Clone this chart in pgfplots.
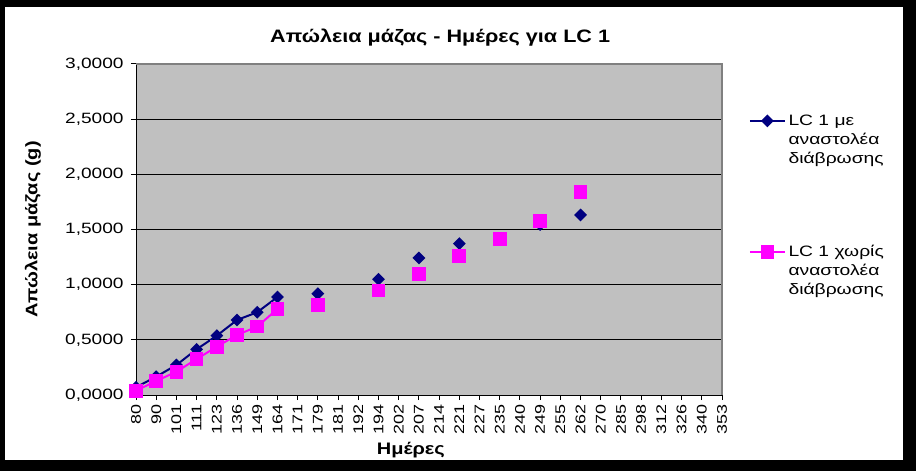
\documentclass[border=0pt]{standalone}
\usepackage{fontspec}
\setmainfont{Liberation Sans}[FakeStretch=1.2]
\newfontfamily\tickfont{Liberation Sans}[FakeStretch=1.28]
\usepackage{pgfplots}
\usepackage{pgfplotstable}
\pgfplotsset{compat=1.18}
\definecolor{navyA}{RGB}{0,0,128}
\definecolor{magB}{RGB}{255,0,255}
\definecolor{plotgray}{RGB}{192,192,192}
\definecolor{bordergray}{RGB}{128,128,128}

\pgfplotstableread{
x y
0 0.070
1 0.166
2 0.272
3 0.414
4 0.538
5 0.680
6 0.750
7 0.888
8 nan
9 0.918
10 nan
12 1.049
13 nan
14 1.242
15 nan
16 1.372
17 nan
20 1.545
21 nan
22 1.632
}\seriesA

\pgfplotstableread{
x y
0 0.039
1 0.127
2 0.211
3 0.326
4 0.438
5 0.544
6 0.620
7 0.780
8 nan
9 0.816
10 nan
12 0.946
13 nan
14 1.097
15 nan
16 1.263
17 nan
18 1.414
19 nan
20 1.577
21 nan
22 1.840
}\seriesB

\begin{document}
\begin{tikzpicture}
\fill[black] (0,0) rectangle (687pt,353.25pt);
\fill[white] (3.75pt,8.25pt) rectangle (677.25pt,348pt);
\begin{axis}[
  at={(102pt,57pt)}, anchor=south west,
  scale only axis, width=439.5pt, height=248.25pt,
  xmin=0, xmax=29, ymin=0, ymax=3,
  axis background/.style={fill=plotgray},
  axis x line*=bottom, axis y line*=left,
  axis line style={black, line width=0.75pt, -},
  xtick={0,...,29},
  xticklabels={80,90,101,111,123,136,149,164,171,179,181,192,194,202,207,214,221,227,235,240,249,255,262,270,285,298,312,326,340,353},
  ytick={0,0.5,...,3},
  tick align=outside,
  major tick length=3.75pt,
  tick style={black, line width=0.75pt},
  ymajorgrids, grid style={black, line width=0.6pt},
  xticklabel style={rotate=90, anchor=east, font=\tickfont\fontsize{10.5}{12}\selectfont},
  yticklabel style={font=\tickfont\fontsize{11.2}{12}\selectfont, xshift=-2pt},
  y tick label style={/pgf/number format/.cd, fixed, fixed zerofill, precision=4, use comma, assume math mode=true},
  unbounded coords=jump,
  title={Απώλεια μάζας - Ημέρες για LC 1},
  title style={font=\bfseries\fontsize{13.5}{16}\selectfont, at={(axis description cs:0.519,1)}, anchor=center, yshift=14pt},
  xlabel={Ημέρες},
  xlabel style={font=\bfseries\fontsize{12.5}{15}\selectfont, at={(axis description cs:0.469,0)}, anchor=center, yshift=-41pt},
  ylabel={Απώλεια μάζας (g)},
  ylabel style={font=\bfseries\fontsize{12.5}{14}\selectfont, at={(axis description cs:-0.176,0.5)}, anchor=center},
  legend style={draw=none, fill=none, at={(axis description cs:1,1)}, anchor=north west,
    xshift=17pt, yshift=-34pt, row sep=56pt,
    font=\tickfont\fontsize{11.3}{14.25}\selectfont, nodes={align=left}},
  legend cell align=left,
  legend image code/.code={\draw[yshift=14.5pt, mark repeat=2, mark phase=2] plot coordinates {(0cm,0cm) (0.46cm,0cm) (0.92cm,0cm)};},
  extra description/.code={
    \draw[bordergray, line width=1pt] (axis description cs:0,1) -- (axis description cs:1,1) -- (axis description cs:1,0);
  },
]
\addplot[navyA, line width=1.5pt, mark=square*, mark size=2.65pt, mark options={rotate=45, fill=navyA, draw=navyA}] table[x=x, y=y] {\seriesA};
\addlegendentry{LC 1 με\\αναστολέα\\διάβρωσης}
\addplot[magB, line width=1.5pt, mark=square*, mark size=4.4pt, mark options={fill=magB, draw=magB}] table[x=x, y=y] {\seriesB};
\addlegendentry{LC 1 χωρίς\\αναστολέα\\διάβρωσης}
\end{axis}
\end{tikzpicture}
\end{document}
